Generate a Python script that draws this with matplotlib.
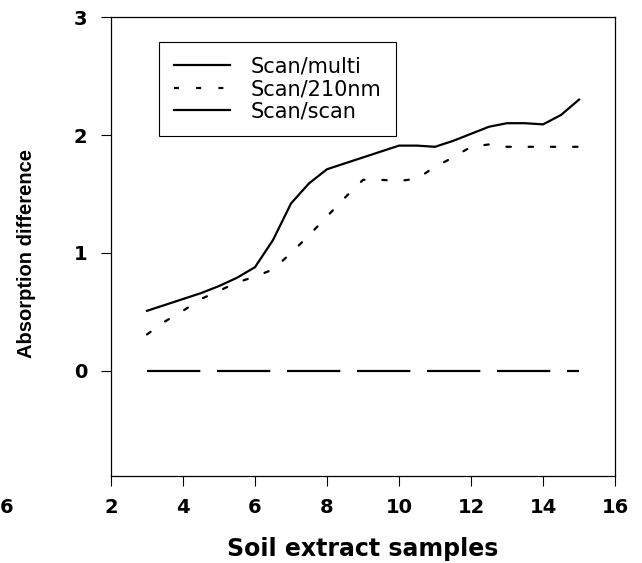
from matplotlib import pyplot as plt
from matplotlib.lines import Line2D

# sample positions (every half step)
samples = [3, 3.5, 4, 4.5, 5, 5.5, 6, 6.5, 7, 7.5, 8, 8.5, 9, 9.5,
           10, 10.5, 11, 11.5, 12, 12.5, 13, 13.5, 14, 14.5, 15]
scan_multi = [0.51, 0.56, 0.61, 0.66, 0.72, 0.79, 0.88, 1.11, 1.42, 1.59, 1.71, 1.76, 1.81, 1.86,
              1.91, 1.91, 1.90, 1.95, 2.01, 2.07, 2.10, 2.10, 2.09, 2.17, 2.30]
scan_210nm = [0.31, 0.42, 0.51, 0.61, 0.68, 0.75, 0.80, 0.86, 1.00, 1.15, 1.31, 1.47, 1.62, 1.62,
              1.61, 1.63, 1.73, 1.81, 1.90, 1.92, 1.90, 1.90, 1.90, 1.90, 1.90]
scan_scan = [0] * len(samples)

legend_labels = ["Scan/multi", "Scan/210nm", "Scan/scan"]


def main() -> None:
    plt.rcParams["font.family"] = ["DejaVu Sans"]
    fig = plt.figure(figsize=(6.42, 5.63), dpi=100)
    ax = fig.add_axes([0.1729, 0.1545, 0.7851, 0.8153])

    ax.plot(samples, scan_multi, color="black", lw=1.6)
    ax.plot(samples, scan_210nm, color="black", lw=1.6,
            linestyle=(0, (2, 8)), dash_capstyle="round")
    ax.plot(samples, scan_scan, color="black", lw=1.6, linestyle=(0, (24, 7.5)))

    ax.set_xlim(2, 16)
    ax.set_ylim(-0.89, 3)
    ax.set_xticks(range(2, 17, 2))
    ax.set_yticks([0, 1, 2, 3])

    ax.tick_params(direction="out", length=7, width=0.8, labelsize=14)
    ax.tick_params(axis="y", pad=10)
    ax.tick_params(axis="x", pad=9)
    for label in ax.get_xticklabels() + ax.get_yticklabels():
        label.set_fontweight("bold")
    for spine in ax.spines.values():
        spine.set_linewidth(0.9)

    ax.set_xlabel("Soil extract samples", fontsize=17, fontweight="bold", labelpad=14)
    ax.set_ylabel("Absorption difference", fontsize=14.5, fontweight="bold",
                  family=["Liberation Sans"])
    ax.yaxis.set_label_coords(-0.148, 0.484)

    handles = [
        Line2D([], [], color="black", lw=1.6),
        Line2D([], [], color="black", lw=1.6, linestyle=(0, (2.2, 7.8))),
        Line2D([], [], color="black", lw=1.6),
    ]
    leg = ax.legend(handles, legend_labels, loc="upper left",
                    bbox_to_anchor=(0.0952, 0.9455), borderaxespad=0,
                    fontsize=15, handlelength=2.7, handletextpad=1.0,
                    labelspacing=0.12, borderpad=0.7, fancybox=False,
                    framealpha=1, edgecolor="black")
    leg.get_frame().set_linewidth(0.8)

    fig.text(0.0, 0.0977, "6", fontsize=14, fontweight="bold", va="center", ha="left")

    fig.savefig("out.png", dpi=100)


if __name__ == "__main__":
    main()
